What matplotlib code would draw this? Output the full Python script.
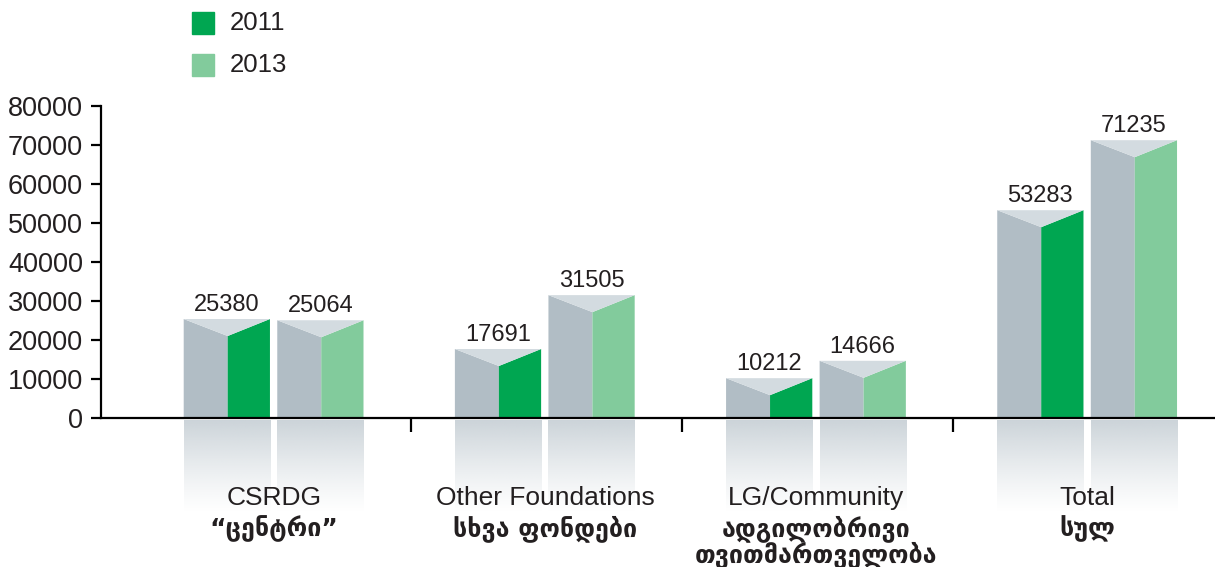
import numpy as np
import matplotlib
matplotlib.use('Agg')
import matplotlib.pyplot as plt
from matplotlib.patches import Rectangle

# DATA
categories = ['CSRDG', 'Other Foundations', 'LG/Community', 'Total']
categories_ka = ['“ცენტრი”', 'სხვა ფონდები', 'ადგილობრივი\nთვითმართველობა', 'სულ']
years = ['2011', '2013']
values_2011 = [25380, 17691, 10212, 53283]
values_2013 = [25064, 31505, 14666, 71235]
y_ticks = [0, 10000, 20000, 30000, 40000, 50000, 60000, 70000, 80000]

# STYLE
face_gray = '#b1bdc5'
top_gray = '#d3dbe0'
greens = ['#00a651', '#82cb9c']
text_color = '#231f20'
latin = ['Liberation Sans', 'DejaVu Sans']
georgian = ['DejaVu Sans']

W, H = 1215, 567
fig = plt.figure(figsize=(W / 100, H / 100), dpi=100)
ax = fig.add_axes([101 / W, (H - 418) / H, (W - 101) / W, (418 - 106) / H])

units_per_px = 80000 / 312
notch = 17 * units_per_px
bar_w = 0.318
offsets = [-0.333, 0.012]

# reflection gradient (fades to white)
rgba = np.zeros((100, 1, 4))
rgba[..., :3] = matplotlib.colors.to_rgb(face_gray)
rgba[:, 0, 3] = np.linspace(0.7, 0.0, 100) ** 1.2

for k, vals in enumerate([values_2011, values_2013]):
    for i, v in enumerate(vals):
        x0 = i + offsets[k]
        x1 = x0 + bar_w
        xm = x0 + 0.51 * bar_w
        # left grey face
        ax.fill([x0, x0, xm, xm], [0, v, v - notch, 0], color=face_gray, lw=0, zorder=2)
        # coloured face
        ax.fill([xm, xm, x1, x1], [0, v - notch, v, 0], color=greens[k], lw=0, zorder=2)
        # top
        ax.fill([x0, x1, xm], [v, v, v - notch], color=top_gray, lw=0, zorder=2)
        # reflection
        ax.imshow(rgba, extent=(x0, x1, -95 * units_per_px, -2 * units_per_px),
                  aspect='auto', clip_on=False, zorder=1, interpolation='bilinear')
        # value label
        ax.text((x0 + x1) / 2, v + 3 * units_per_px, f'{v}', ha='center', va='bottom',
                fontsize=17, color=text_color, family=latin)

ax.set_xlim(-0.638, 3.47)
ax.set_ylim(0, 80000)

# axes
for s in ['top', 'right']:
    ax.spines[s].set_visible(False)
ax.spines['left'].set_linewidth(1.6)
ax.spines['bottom'].set_linewidth(1.6)
ax.set_yticks(y_ticks)
ax.set_yticklabels([str(t) for t in y_ticks], fontsize=19.5, color=text_color, family=latin)
ax.tick_params(axis='y', direction='out', length=7, width=1.6, pad=6)
ax.set_xticks([0.505, 1.505, 2.505])
ax.set_xticklabels([])
ax.tick_params(axis='x', direction='out', length=10, width=1.6)
ax.set_facecolor('none')

# category labels
for i, (en, ka) in enumerate(zip(categories, categories_ka)):
    ax.text(i, -68 * units_per_px, en, ha='center', va='top', fontsize=19,
            color=text_color, family=latin)
    ax.text(i, -97 * units_per_px, ka, ha='center', va='top', fontsize=18,
            fontweight='bold', color=text_color, family=georgian, linespacing=0.95)

# legend
for k, yr in enumerate(years):
    yc = 23 + 42 * k
    fig.patches.append(Rectangle((192 / W, 1 - (yc + 11) / H), 22 / W, 22 / H,
                                 transform=fig.transFigure, color=greens[k]))
    fig.text(230 / W, 1 - yc / H, yr, ha='left', va='center', fontsize=18.5,
             color=text_color, family=latin)

plt.savefig('out.png', dpi=100)
